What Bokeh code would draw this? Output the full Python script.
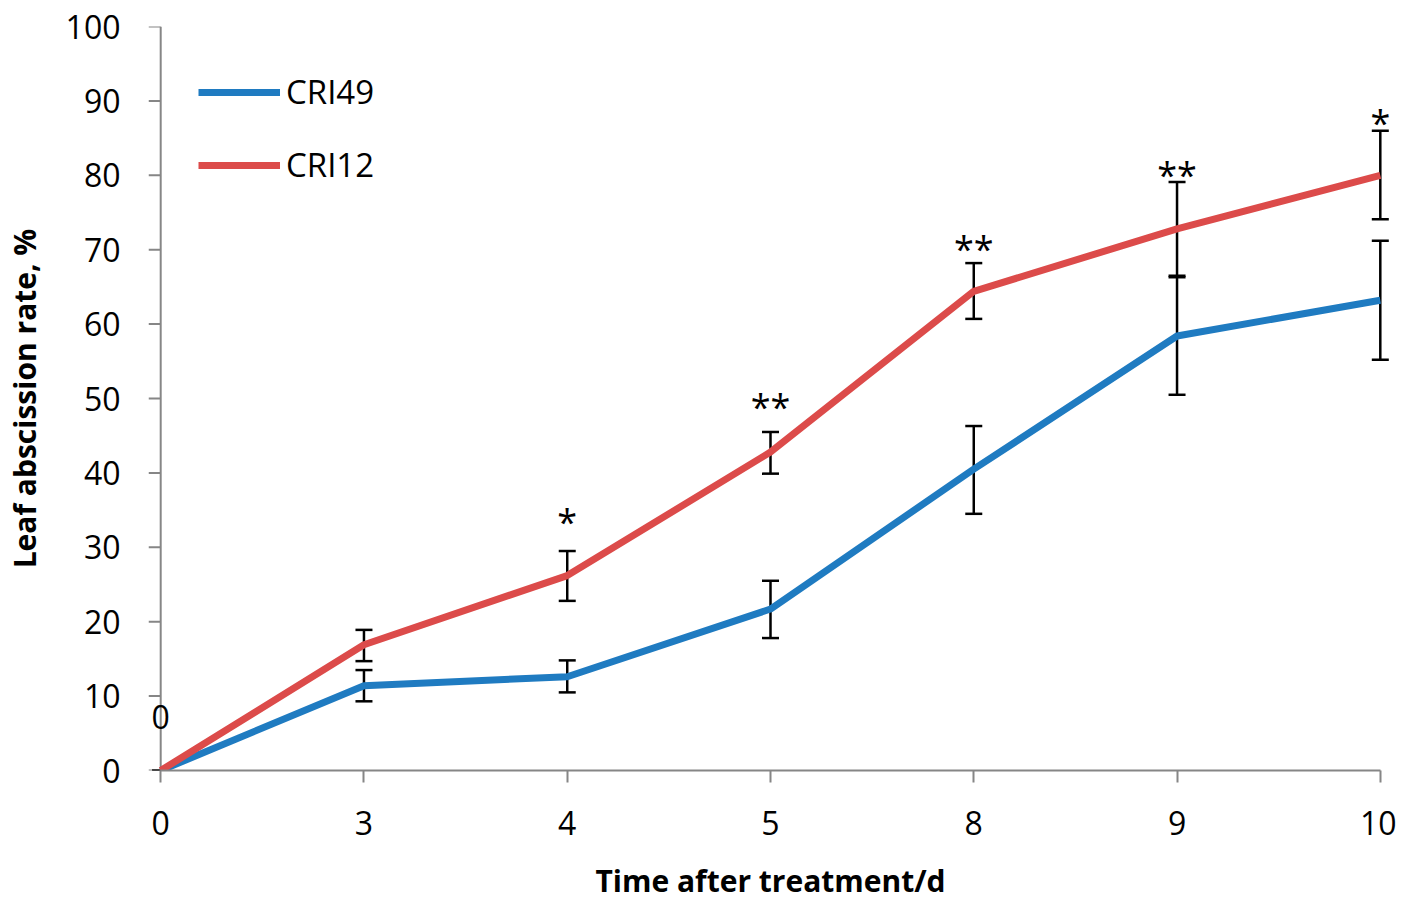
from bokeh.plotting import figure
from bokeh.models import Range1d, ColumnDataSource, Whisker, TeeHead, Legend, LegendItem, FixedTicker, LabelSet, Label
from bokeh.core.properties import value
from bokeh.embed import file_html
from bokeh.resources import INLINE

days = ["0", "3", "4", "5", "8", "9", "10"]
cri49 = [0, 11.4, 12.6, 21.7, 40.5, 58.4, 63.2]
cri49_lo = [0, 9.3, 10.5, 17.8, 34.5, 50.5, 55.2]
cri49_hi = [0, 13.5, 14.8, 25.5, 46.3, 66.3, 71.2]
cri12 = [0, 16.9, 26.2, 42.8, 64.4, 72.8, 80.0]
cri12_lo = [0, 14.7, 22.8, 39.9, 60.7, 66.5, 74.1]
cri12_hi = [0, 18.9, 29.5, 45.5, 68.2, 79.1, 86.0]
sig_labels = ["", "", "*", "**", "**", "**", "*"]
sig_y = [0, 0, 34.0, 49.4, 70.7, 80.7, 87.7]
y_ticks = list(range(0, 101, 10))

FONT = "Open Sans"
BLUE = "#1f7bc1"
RED = "#dc4b4a"
GREY = "#868686"

xs = list(range(len(days)))
PAD = 0.06  # leaves room left of x=0 for y ticks and the "0" label

p = figure(width=1396, height=903, output_backend="svg", toolbar_location=None,
           x_range=Range1d(-PAD, len(days) - 1 + PAD), y_range=Range1d(0, 100),
           min_border_left=146, min_border_right=4, min_border_top=26, min_border_bottom=132)
p.outline_line_color = None
p.grid.visible = False
p.background_fill_color = "white"

# y axis line and ticks drawn at x = 0
p.segment(x0=[xs[0]], y0=[y_ticks[0]], x1=[xs[0]], y1=[y_ticks[-1]], line_color=GREY, line_width=2)
p.segment(x0=[xs[0] - PAD] * len(y_ticks), y0=y_ticks, x1=[xs[0]] * len(y_ticks), y1=y_ticks,
          line_color=GREY, line_width=2)

src49 = ColumnDataSource(dict(x=xs, y=cri49, lo=cri49_lo, hi=cri49_hi))
src12 = ColumnDataSource(dict(x=xs, y=cri12, lo=cri12_lo, hi=cri12_hi))

r49 = p.line("x", "y", source=src49, line_color=BLUE, line_width=7)
r12 = p.line("x", "y", source=src12, line_color=RED, line_width=7)

for src in (src49, src12):
    w = Whisker(source=src, base="x", upper="hi", lower="lo", line_color="black", line_width=2.5,
                upper_head=TeeHead(size=17, line_width=2.5, line_color="black"),
                lower_head=TeeHead(size=17, line_width=2.5, line_color="black"))
    p.add_layout(w)

sig_src = ColumnDataSource(dict(x=[xs[i] for i in range(len(xs)) if sig_labels[i]],
                                y=[sig_y[i] for i in range(len(xs)) if sig_labels[i]],
                                t=[sig_labels[i] for i in range(len(xs)) if sig_labels[i]]))
p.add_layout(LabelSet(x="x", y="y", text="t", source=sig_src, text_font=value(FONT),
                      text_font_size="36px", text_align="center", text_baseline="middle",
                      y_offset=-4, text_color="black"))

# data label "0" at origin
p.add_layout(Label(x=xs[0], y=cri49[0], text=str(cri49[0]), text_font=FONT,
                   text_font_size="32px", text_align="center", text_baseline="bottom",
                   y_offset=42, text_color="black"))

# axes
p.xaxis.ticker = FixedTicker(ticks=xs)
p.xaxis.major_label_overrides = {i: d for i, d in zip(xs, days)}
p.xaxis.bounds = (0, len(days) - 1)
p.yaxis.ticker = FixedTicker(ticks=y_ticks)
p.yaxis.bounds = (0, 100)
for ax in (p.xaxis, p.yaxis):
    ax.axis_line_color = GREY
    ax.axis_line_width = 2
    ax.major_tick_line_color = GREY
    ax.major_tick_line_width = 2
    ax.major_tick_out = 12
    ax.major_tick_in = 0
    ax.minor_tick_line_color = None
    ax.major_label_text_font = FONT
    ax.major_label_text_font_size = "32px"
    ax.major_label_text_color = "black"
    ax.axis_label_text_font = FONT
    ax.axis_label_text_font_size = "30px"
    ax.axis_label_text_font_style = "bold"
    ax.axis_label_text_color = "black"
p.yaxis.axis_line_color = None
p.yaxis.major_tick_line_color = None
p.yaxis.major_tick_out = 0
p.xaxis.major_label_standoff = 28
p.yaxis.major_label_standoff = 28
p.xaxis.axis_label = "Time after treatment/d"
p.yaxis.axis_label = "Leaf abscission rate, %"
p.xaxis.axis_label_standoff = 22
p.yaxis.axis_label_standoff = 18

legend = Legend(items=[LegendItem(label="CRI49", renderers=[r49]),
                       LegendItem(label="CRI12", renderers=[r12])],
                location=(50, 583), orientation="vertical")
legend.label_text_font = FONT
legend.label_text_font_size = "33px"
legend.label_text_color = "black"
legend.glyph_width = 82
legend.glyph_height = 40
legend.spacing = 28
legend.label_standoff = 6
legend.padding = 0
legend.margin = 0
legend.border_line_color = None
legend.background_fill_alpha = 0
p.add_layout(legend)

open("out.html", "w").write(file_html(p, INLINE))
